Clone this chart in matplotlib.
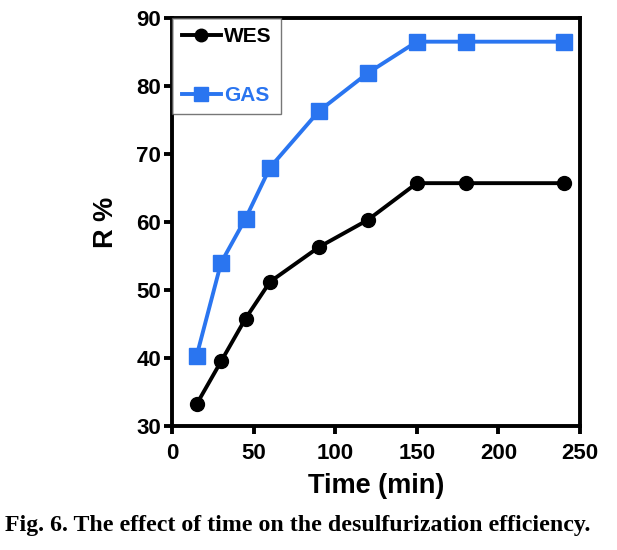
import matplotlib.pyplot as plt

time_min = [15, 30, 45, 60, 90, 120, 150, 180, 240]
wes = [33.2, 39.5, 45.8, 51.2, 56.3, 60.3, 65.7, 65.7, 65.7]
gas = [40.3, 54.0, 60.5, 68.0, 76.3, 81.9, 86.5, 86.5, 86.5]

plt.rcParams['font.family'] = ['Liberation Sans', 'DejaVu Sans']
plt.rcParams['font.weight'] = 'bold'

fig = plt.figure(figsize=(6.17, 5.5), dpi=100)
ax = fig.add_axes([0.279, 0.2255, 0.661, 0.742])

ax.plot(time_min, wes, color='black', marker='o', markersize=10, linewidth=2.8, label='WES')
ax.plot(time_min, gas, color='#2a75f0', marker='s', markersize=11, linewidth=2.8, label='GAS')

ax.set_xlim(0, 250)
ax.set_ylim(30, 90)
ax.set_xticks([0, 50, 100, 150, 200, 250])
ax.set_yticks([30, 40, 50, 60, 70, 80, 90])
for s in ax.spines.values():
    s.set_linewidth(2.8)
ax.tick_params(width=2.8, length=6, labelsize=16)
ax.tick_params(axis='x', pad=6)
ax.tick_params(axis='y', pad=2)
for lbl in ax.get_xticklabels() + ax.get_yticklabels():
    lbl.set_fontweight('bold')

ax.set_xlabel('Time (min)', fontsize=19.5, fontweight='bold', labelpad=7)
ax.set_ylabel('R %', fontsize=19.5, fontweight='bold', labelpad=12)

leg = ax.legend(loc='upper left', fontsize=15, frameon=True, fancybox=False,
                labelspacing=1.9, handlelength=1.9, borderaxespad=0.0,
                borderpad=0.45, handletextpad=0.15, markerscale=0.9)
leg.get_frame().set_edgecolor('#555555')
leg.get_frame().set_linewidth(1.0)
for txt, c in zip(leg.get_texts(), ['black', '#2a75f0']):
    txt.set_color(c)
    txt.set_fontweight('bold')

fig.text(0.483, 0.045, 'Fig. 6. The effect of time on the desulfurization efficiency.',
         ha='center', va='center', fontsize=17.2, fontweight='bold',
         family=['Liberation Serif', 'DejaVu Serif'])

fig.savefig('out.png', dpi=100)
